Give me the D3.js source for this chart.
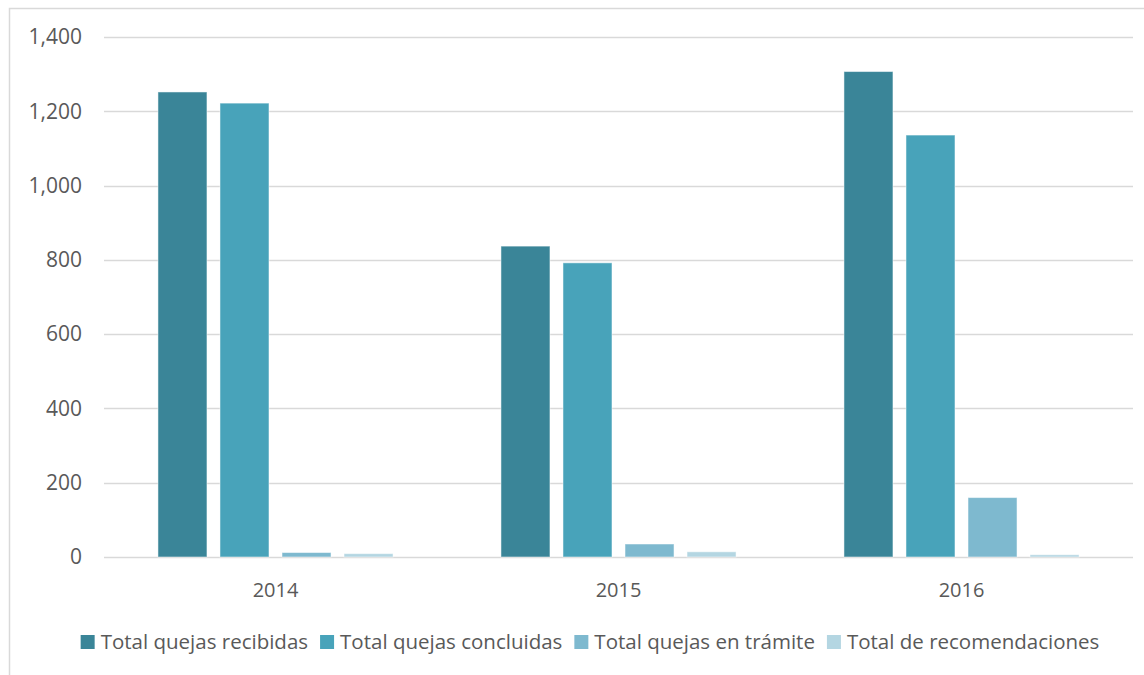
<!DOCTYPE html>
<html>
<head>
<meta charset="utf-8">
<script src="https://cdn.jsdelivr.net/npm/d3@7"></script>
<style>
  body { margin: 0; background: #fff; }
  text { font-family: "Open Sans", sans-serif; fill: #595959; }
</style>
</head>
<body>
<div id="chart"></div>
<script>
// data
var years = ["2014", "2015", "2016"];
var series = ["Total quejas recibidas", "Total quejas concluidas", "Total quejas en trámite", "Total de recomendaciones"];
var recibidas = [1252, 837, 1307];
var concluidas = [1222, 792, 1136];
var enTramite = [12, 35, 160];
var recomendaciones = [9, 14, 6];
var yTicks = [0, 200, 400, 600, 800, 1000, 1200, 1400];
var colors = ["#3a8598", "#48a3ba", "#7eb9cf", "#b4d6e2"];

var values = [recibidas, concluidas, enTramite, recomendaciones];

var W = 1144, H = 675;
var margin = { top: 37, right: 11, bottom: 118, left: 104 },
    width = W - margin.left - margin.right,
    height = H - margin.top - margin.bottom;

var svg = d3.select("#chart").append("svg")
    .attr("width", W)
    .attr("height", H);

// outer frame
svg.append("rect")
    .attr("x", 9.5).attr("y", 8.5)
    .attr("width", W + 20).attr("height", H + 20)
    .attr("fill", "none")
    .attr("stroke", "#d9d9d9")
    .attr("stroke-width", 1.5);

var g = svg.append("g")
    .attr("transform", "translate(" + margin.left + "," + margin.top + ")");

var x0 = d3.scaleBand().domain(years).range([0, width]);
var x1 = d3.scaleBand().domain(series)
    .range([0, x0.bandwidth()])
    .paddingInner(0.21)
    .paddingOuter(0.87);
var y = d3.scaleLinear().domain([0, 1400]).range([height, 0]);

// gridlines
g.selectAll(".grid")
    .data(yTicks)
    .enter().append("line")
    .attr("x1", 0).attr("x2", width)
    .attr("y1", function (d) { return Math.round(y(d)) + 0.5; })
    .attr("y2", function (d) { return Math.round(y(d)) + 0.5; })
    .attr("stroke", "#d9d9d9")
    .attr("stroke-width", 1.5);

// y labels
g.selectAll(".ylab")
    .data(yTicks)
    .enter().append("text")
    .attr("x", -22)
    .attr("y", function (d) { return y(d); })
    .attr("dy", "0.35em")
    .attr("text-anchor", "end")
    .style("font-size", "21px")
    .text(function (d) { return d3.format(",")(d); });

// bars
series.forEach(function (s, i) {
    g.selectAll(".bar" + i)
        .data(years)
        .enter().append("rect")
        .attr("x", function (d) { return x0(d) + x1(s); })
        .attr("width", x1.bandwidth())
        .attr("y", function (d, j) { return y(values[i][j]); })
        .attr("height", function (d, j) { return height - y(values[i][j]); })
        .attr("fill", colors[i])
        .attr("stroke", "#ffffff")
        .attr("stroke-opacity", 0.5)
        .attr("stroke-width", 1);
});

// x labels
g.selectAll(".xlab")
    .data(years)
    .enter().append("text")
    .attr("x", function (d) { return x0(d) + x0.bandwidth() / 2; })
    .attr("y", height + 40)
    .attr("text-anchor", "middle")
    .style("font-size", "20px")
    .text(function (d) { return d; });

// legend
var legend = svg.append("g");
var lx = 0;
series.forEach(function (s, i) {
    var item = legend.append("g").attr("transform", "translate(" + lx + ",0)");
    item.append("rect")
        .attr("x", 0).attr("y", -14)
        .attr("width", 14).attr("height", 14)
        .attr("fill", colors[i]);
    var t = item.append("text")
        .attr("x", 20).attr("y", 0)
        .style("font-size", "20.5px")
        .text(s);
    lx += 20 + t.node().getComputedTextLength() + 12;
});
lx -= 12;
legend.attr("transform", "translate(" + (590 - lx / 2) + ",649)");
</script>
</body>
</html>
